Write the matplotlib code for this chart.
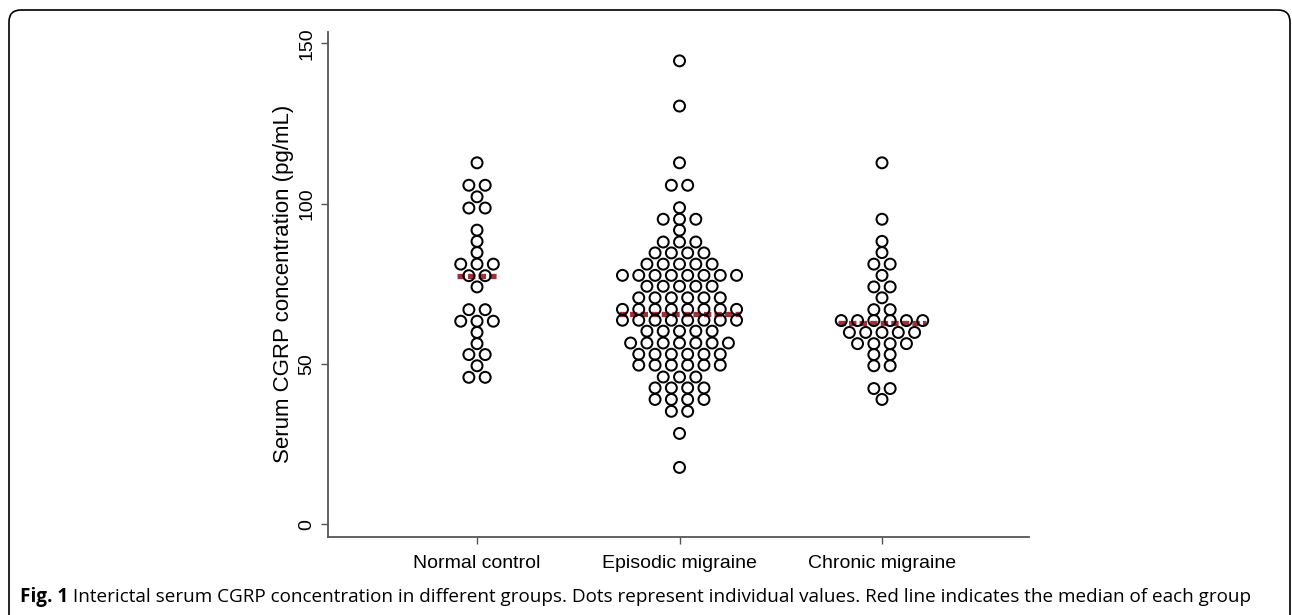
import numpy as np
import matplotlib.pyplot as plt
from matplotlib.patches import FancyBboxPatch

# groups on the x axis
groups = ['Normal control', 'Episodic migraine', 'Chronic migraine']

# dot rows (pg/mL) and how many dots sit in each row
normal_rows = [112.7, 105.7, 102.1, 98.6, 91.7, 88.2, 84.7, 81.1, 77.5, 74.0,
               66.9, 63.3, 59.8, 56.3, 52.9, 49.4, 45.8]
normal_counts = [1, 2, 1, 2, 1, 1, 1, 3, 2, 1, 2, 3, 1, 1, 2, 1, 2]

episodic_rows = [144.5, 130.4, 112.7, 105.7, 98.7, 95.1, 91.7, 88.0, 84.6, 81.1,
                 77.6, 74.2, 70.6, 67.0, 63.6, 60.2, 56.5, 53.0, 49.6, 45.9,
                 42.5, 38.9, 35.2, 28.3, 17.7]
episodic_counts = [1, 1, 1, 2, 1, 3, 1, 3, 4, 5, 8, 5, 6, 8, 8, 5, 7, 6, 6, 3,
                   4, 4, 2, 1, 1]

chronic_rows = [112.7, 95.1, 88.2, 84.7, 81.1, 77.6, 74.0, 70.6, 66.9, 63.5,
                59.8, 56.3, 52.9, 49.4, 42.3, 38.9]
chronic_counts = [1, 1, 1, 1, 2, 1, 2, 1, 2, 6, 5, 4, 2, 2, 2, 1]

medians = [77.5, 65.7, 62.6]

caption_bold = 'Fig. 1'
caption_rest = (' Interictal serum CGRP concentration in different groups. '
                'Dots represent individual values. Red line indicates the median of each group')

red = '#A0313A'
spacing = 0.0805  # horizontal distance between neighbouring dots

fig = plt.figure(figsize=(12.92, 6.15), dpi=100)
ax = fig.add_axes([328 / 1292, 1 - 537 / 615, (1029 - 328) / 1292, (537 - 32) / 615])

data = [(normal_rows, normal_counts), (episodic_rows, episodic_counts),
        (chronic_rows, chronic_counts)]

for i, (rows, counts) in enumerate(data):
    xc = i + 1
    xs, ys = [], []
    for y, n in zip(rows, counts):
        for k in range(n):
            xs.append(xc + (k - (n - 1) / 2) * spacing)
            ys.append(y)
    half = (max(counts) - 1) / 2 * spacing + 0.016
    ax.plot([xc - half, xc + half], [medians[i], medians[i]], color=red, lw=3.8,
            dashes=(1.4, 0.6), solid_capstyle='butt', zorder=2)
    ax.scatter(xs, ys, s=62, facecolors='none', edgecolors='black',
               linewidths=1.45, zorder=3)

ax.set_xlim(0.264, 3.726)
ax.set_ylim(-4, 153.5)
ax.set_xticks([1, 2, 3])
ax.set_xticklabels(groups, fontsize=14, family='Liberation Sans')
ax.set_yticks([0, 50, 100, 150])
ax.set_yticklabels(['0', '50', '100', '150'], fontsize=14, family='Liberation Sans',
                   rotation=90, va='center')

for side in ['top', 'right']:
    ax.spines[side].set_visible(False)
for side in ['left', 'bottom']:
    ax.spines[side].set_color('#555555')
    ax.spines[side].set_linewidth(1.3)
ax.tick_params(axis='both', color='#555555', length=5, width=1.0)
ax.tick_params(axis='y', pad=4)
ax.tick_params(axis='x', pad=8)

fig.text(283 / 1292, 1 - 284 / 615, 'Serum CGRP concentration (pg/mL)', rotation=90,
         ha='center', va='center', fontsize=16, family='Liberation Sans')

# caption: bold figure number followed by plain text
renderer = fig.canvas.get_renderer()
t = fig.text(20 / 1292, 1 - 597 / 615, caption_bold, fontsize=13.6, family='Open Sans',
             weight='bold', va='center')
bb = t.get_window_extent(renderer)
fig.text(bb.x1 / 1292, 1 - 597 / 615, caption_rest, fontsize=13.6, family='Open Sans',
         va='center')

# rounded frame round the figure
frame = FancyBboxPatch((0.09, -0.5), 12.81, 6.55, boxstyle='round,pad=0,rounding_size=0.12',
                       transform=fig.dpi_scale_trans, facecolor='none',
                       edgecolor='black', linewidth=1.2)
fig.add_artist(frame)

fig.savefig('out.png', dpi=100)
